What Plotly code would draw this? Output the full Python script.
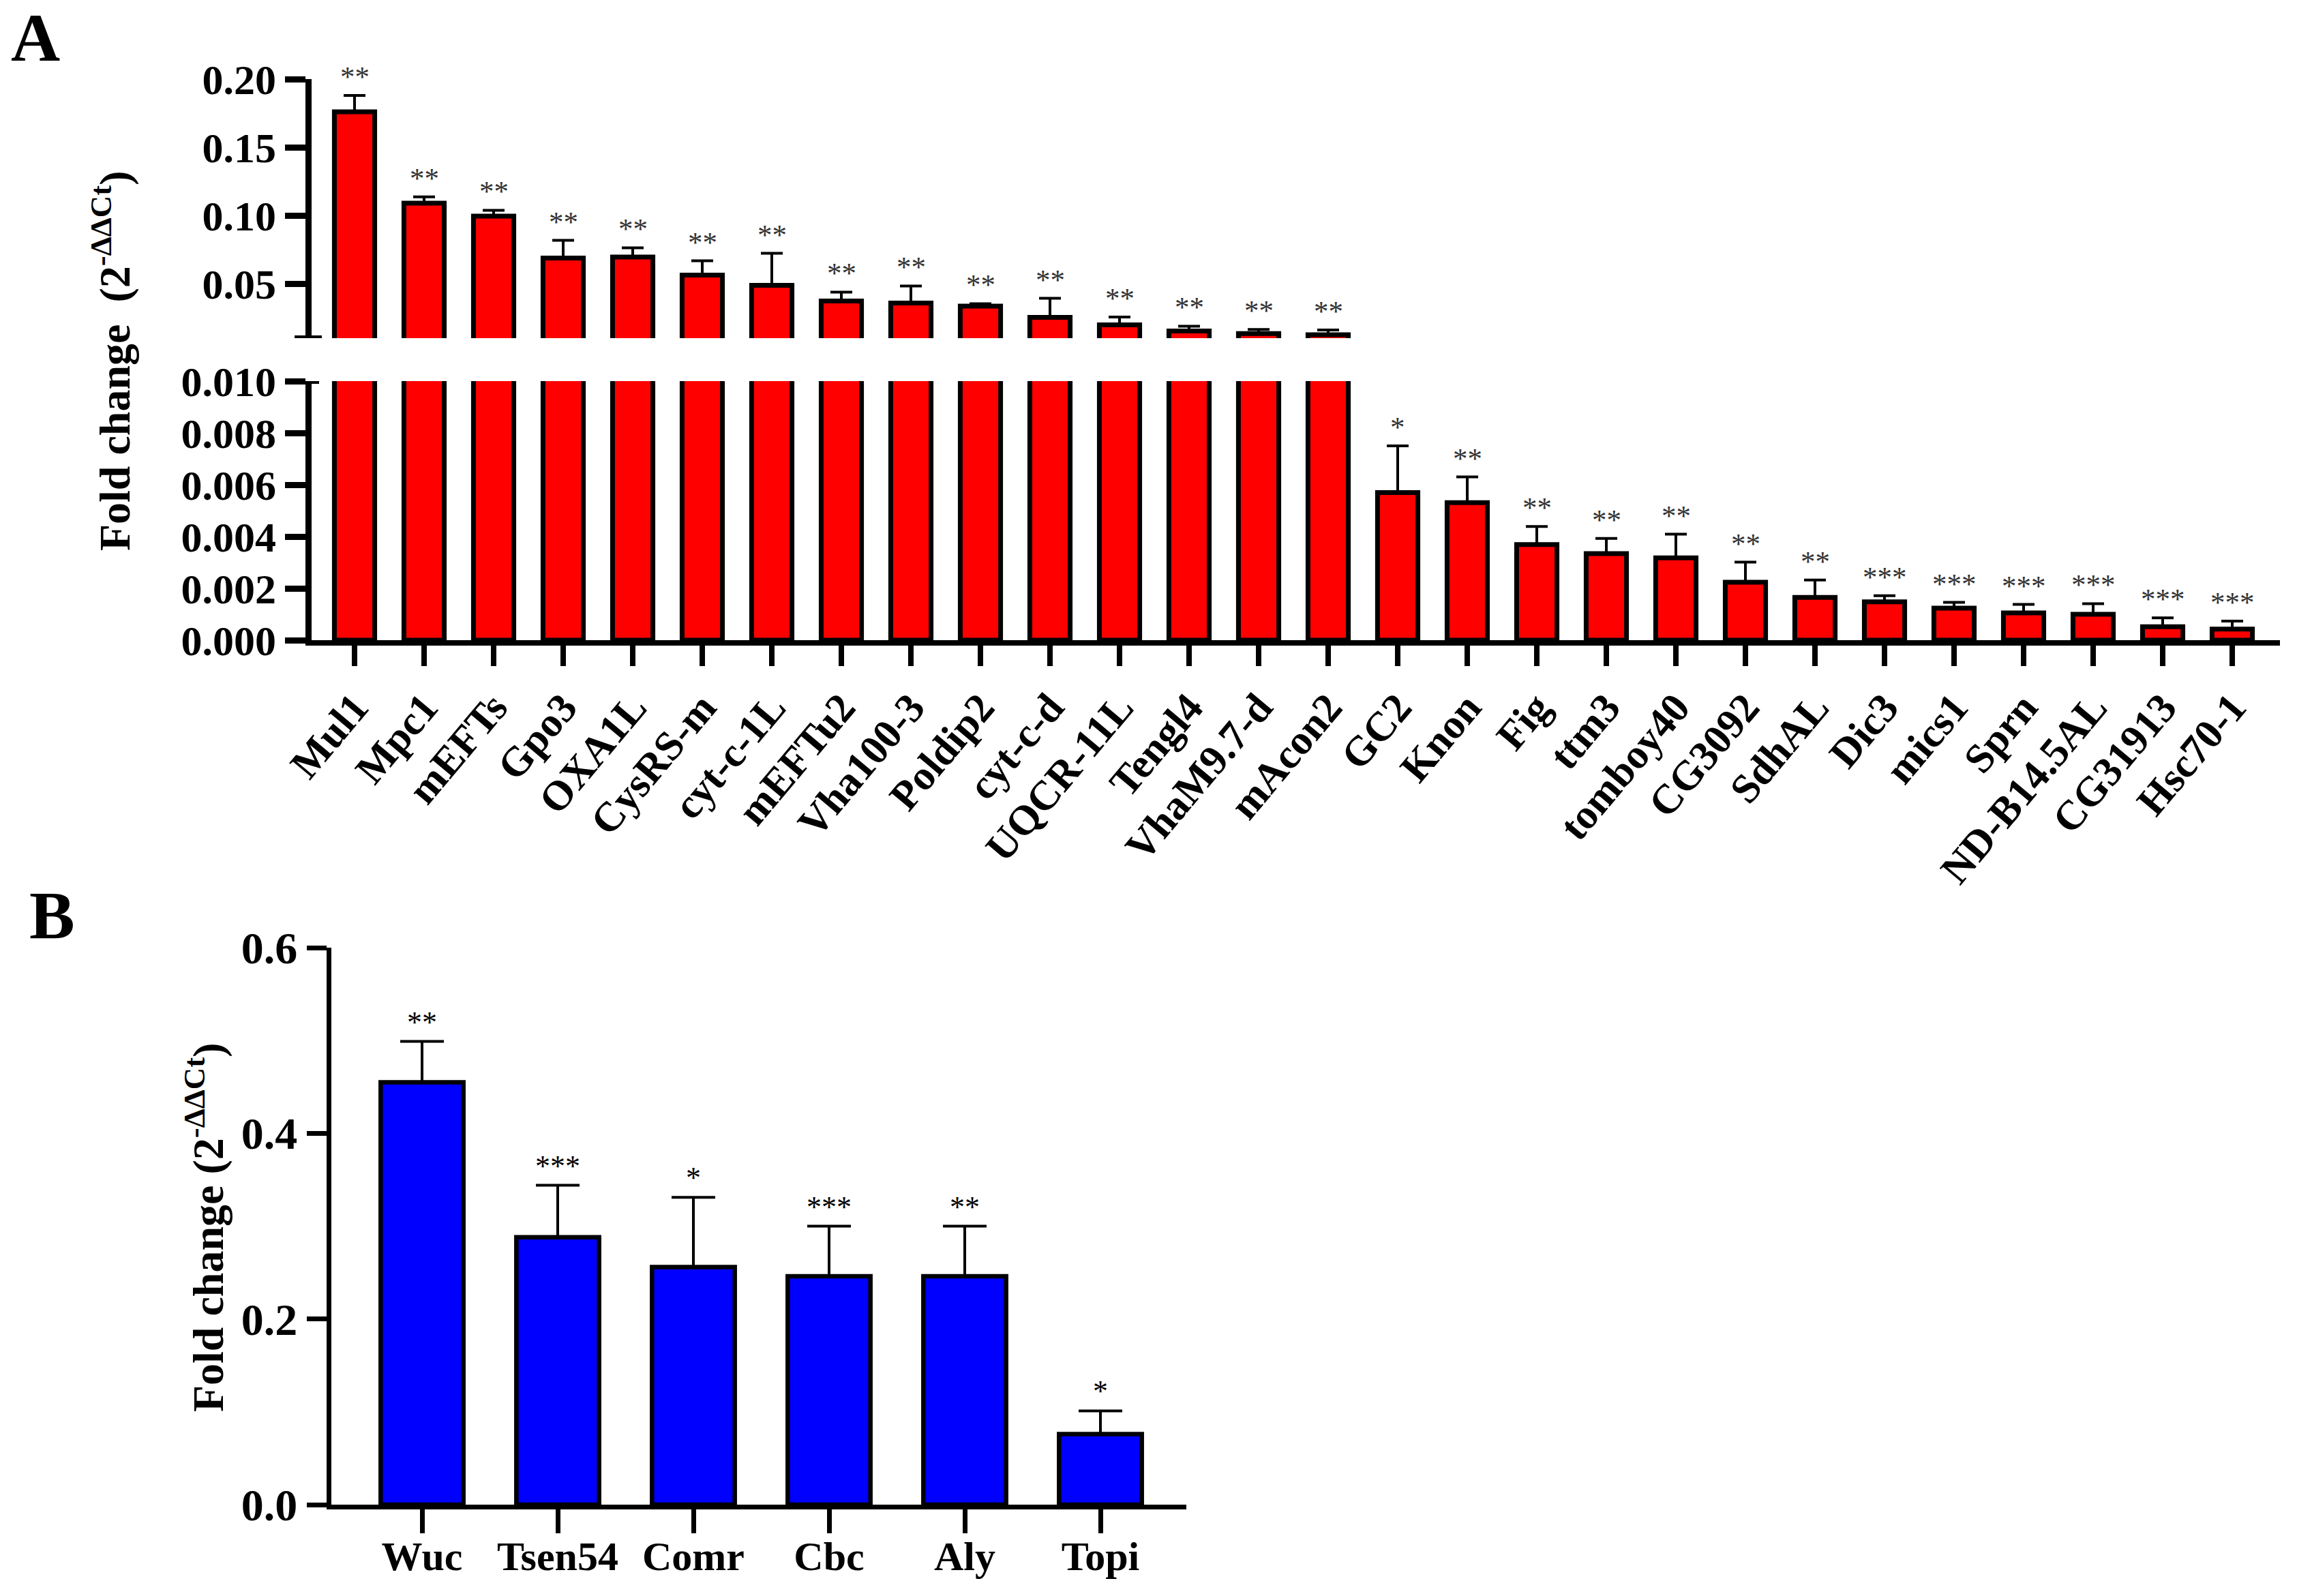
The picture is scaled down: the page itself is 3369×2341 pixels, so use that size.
import plotly.graph_objects as go

W, H = 3369, 2341

# ---------------- data: panel A ----------------
genes_a = ["Mul1", "Mpc1", "mEFTs", "Gpo3", "OXA1L", "CysRS-m", "cyt-c-1L", "mEFTu2",
           "Vha100-3", "Poldip2", "cyt-c-d", "UQCR-11L", "Tengl4", "VhaM9.7-d", "mAcon2",
           "GC2", "Knon", "Fig", "ttm3", "tomboy40", "CG3092", "SdhAL", "Dic3", "mics1",
           "Sprn", "ND-B14.5AL", "CG31913", "Hsc70-1"]
fold_a = [0.176, 0.109, 0.0995, 0.0687, 0.0695, 0.0562, 0.0487, 0.0373,
          0.0358, 0.0335, 0.0253, 0.0198, 0.0153, 0.0134, 0.0125,
          0.00570, 0.00531, 0.00369, 0.00334, 0.00318, 0.00224, 0.00165, 0.00148, 0.00124,
          0.00105, 0.00100, 0.00052, 0.00043]
sem_a = [0.012, 0.0046, 0.0043, 0.013, 0.0068, 0.0105, 0.0235, 0.0065,
         0.0125, 0.0018, 0.0139, 0.0057, 0.0035, 0.0030, 0.0035,
         0.00180, 0.00099, 0.00070, 0.00059, 0.00091, 0.00077, 0.00067, 0.00024, 0.00022,
         0.00033, 0.00041, 0.00034, 0.00031]
sig_a = ["**"] * 15 + ["*"] + ["**"] * 6 + ["***"] * 6

lower_ticks = [0.000, 0.002, 0.004, 0.006, 0.008, 0.010]
upper_ticks = [0.05, 0.10, 0.15, 0.20]
BREAK = 0.010
UPPER_MAX = 0.20

# ---------------- data: panel B ----------------
genes_b = ["Wuc", "Tsen54", "Comr", "Cbc", "Aly", "Topi"]
fold_b = [0.455, 0.288, 0.256, 0.246, 0.246, 0.076]
sem_b = [0.044, 0.056, 0.075, 0.054, 0.054, 0.025]
sig_b = ["**", "***", "*", "***", "**", "*"]
b_ticks = [0.0, 0.2, 0.4, 0.6]

SERIF = "Liberation Serif"


def fx(p):
    return p / W


def fy(p):
    return 1 - p / H


# layout geometry (pixels)
A_X0, A_X1 = 456.5, 3344
A_STEP, A_FIRST = 102.0, 520.0
A_LOW = (939, 559)     # y px of 0 and 0.010
A_UP = (496, 116)      # y px of 0.010 and 0.20
B_X0, B_X1 = 485.5, 1740
B_STEP, B_FIRST = 199.0, 619.0
B_Y = (2207, 1390)

a_range = [(A_X0 - A_FIRST) / A_STEP, (A_X1 - A_FIRST) / A_STEP]
b_range = [(B_X0 - B_FIRST) / B_STEP, (B_X1 - B_FIRST) / B_STEP]

fig = go.Figure()

bar_a = dict(color="#FF0000", line=dict(color="black", width=7))
fig.add_trace(go.Bar(x=genes_a, y=fold_a, width=0.58, marker=bar_a, xaxis="x", yaxis="y"))
fig.add_trace(go.Bar(x=genes_a, y=fold_a, width=0.58, marker=bar_a, xaxis="x2", yaxis="y2"))

lo = [i for i, v in enumerate(fold_a) if v < BREAK]
hi = [i for i, v in enumerate(fold_a) if v >= BREAK]


def err_trace(idx, xa, ya, genes, vals, errs, cap):
    return go.Scatter(
        x=[genes[i] for i in idx], y=[vals[i] for i in idx], mode="markers",
        marker=dict(size=1, color="rgba(0,0,0,0)"),
        error_y=dict(type="data", symmetric=False, array=[errs[i] for i in idx],
                     arrayminus=[0] * len(idx), color="black", thickness=4, width=cap),
        xaxis=xa, yaxis=ya, hoverinfo="skip")


fig.add_trace(err_trace(lo, "x", "y", genes_a, fold_a, sem_a, 16))
fig.add_trace(err_trace(hi, "x2", "y2", genes_a, fold_a, sem_a, 16))

fig.add_trace(go.Bar(x=genes_b, y=fold_b, width=0.61,
                     marker=dict(color="#0000FF", line=dict(color="black", width=6.5)),
                     xaxis="x3", yaxis="y3"))
fig.add_trace(err_trace(list(range(len(genes_b))), "x3", "y3", genes_b, fold_b, sem_b, 32))

tickfont_a = dict(family=SERIF, size=62, color="black", weight="bold")
common = dict(showgrid=False, zeroline=False, linecolor="black", tickcolor="black",
              ticks="outside", showline=True, fixedrange=True, automargin=False)

fig.update_layout(
    width=W, height=H, margin=dict(l=0, r=0, t=0, b=0, pad=0, autoexpand=False),
    paper_bgcolor="white", plot_bgcolor="white", showlegend=False,
    bargap=0, hovermode=False,
    xaxis=dict(domain=[fx(A_X0), fx(A_X1)], range=a_range, anchor="y",
               linewidth=8, ticklen=30, tickwidth=8, tickangle=-50,
               tickfont=dict(family=SERIF, size=61, color="black", weight="bold"), **common),
    yaxis=dict(domain=[fy(A_LOW[0]), fy(A_LOW[1])], range=[0, BREAK], anchor="x",
               tickvals=lower_ticks, tickformat=".3f", linewidth=9, ticklen=30, tickwidth=9,
               tickfont=tickfont_a, **common),
    xaxis2=dict(domain=[fx(A_X0), fx(A_X1)], range=a_range, anchor="y2", visible=False,
                fixedrange=True, automargin=False),
    yaxis2=dict(domain=[fy(A_UP[0]), fy(A_UP[1])], range=[BREAK, UPPER_MAX], anchor="x2",
                tickvals=upper_ticks, tickformat=".2f", linewidth=9, ticklen=30, tickwidth=9,
                tickfont=tickfont_a, **common),
    xaxis3=dict(domain=[fx(B_X0), fx(B_X1)], range=b_range, anchor="y3",
                linewidth=7, ticklen=35, tickwidth=7, ticklabelstandoff=-18,
                tickfont=dict(family=SERIF, size=60, color="black", weight="bold"), **common),
    yaxis3=dict(domain=[fy(B_Y[0]), fy(B_Y[1])], range=[0, 0.6], anchor="x3",
                tickvals=b_ticks, tickformat=".1f", linewidth=7, ticklen=29, tickwidth=7,
                tickfont=dict(family=SERIF, size=66, color="black", weight="bold"), **common),
)

# axis-break markers
a_w = A_X1 - A_X0
c = -4.5 / a_w
fig.add_shape(type="line", xref="x2 domain", yref="y2", x0=c - 20 / a_w, x1=c + 20 / a_w,
              y0=BREAK, y1=BREAK, line=dict(color="black", width=8))
fig.add_shape(type="line", xref="x domain", yref="y", x0=c, x1=c + 16 / a_w,
              y0=BREAK, y1=BREAK, line=dict(color="black", width=8))

ann = []
star_font = dict(family=SERIF, size=43, color="#333333")
for i, g in enumerate(genes_a):
    ann.append(dict(x=g, y=fold_a[i] + sem_a[i], xref="x" if fold_a[i] < BREAK else "x2",
                    yref="y" if fold_a[i] < BREAK else "y2", text=sig_a[i], showarrow=False,
                    xanchor="center", yanchor="bottom", yshift=2, font=star_font))
for i, g in enumerate(genes_b):
    ann.append(dict(x=g, y=fold_b[i] + sem_b[i], xref="x3", yref="y3", text=sig_b[i],
                    showarrow=False, xanchor="center", yanchor="bottom", yshift=2,
                    font=dict(family=SERIF, size=44, color="black")))

title_font = dict(family=SERIF, size=64, color="black", weight="bold")
ann.append(dict(x=fx(163), y=fy(530), xref="paper", yref="paper", textangle=-90,
                xanchor="center", yanchor="middle",
                text="Fold change  (2<sup>-ΔΔCt</sup>)", showarrow=False, font=title_font))
ann.append(dict(x=fx(300), y=fy(1801), xref="paper", yref="paper", textangle=-90,
                xanchor="center", yanchor="middle",
                text="Fold change (2<sup>-ΔΔCt</sup>)", showarrow=False, font=title_font))
panel_font = dict(family=SERIF, size=100, color="black", weight="bold")
ann.append(dict(x=fx(52), y=fy(56), xref="paper", yref="paper", text="A",
                xanchor="center", yanchor="middle", showarrow=False, font=panel_font))
ann.append(dict(x=fx(76), y=fy(1342), xref="paper", yref="paper", text="B",
                xanchor="center", yanchor="middle", showarrow=False, font=panel_font))
fig.update_layout(annotations=ann)

fig.write_html("out.html", config={"displayModeBar": False, "staticPlot": True},
               post_script="document.body.style.margin='0';document.body.style.padding='0';")
